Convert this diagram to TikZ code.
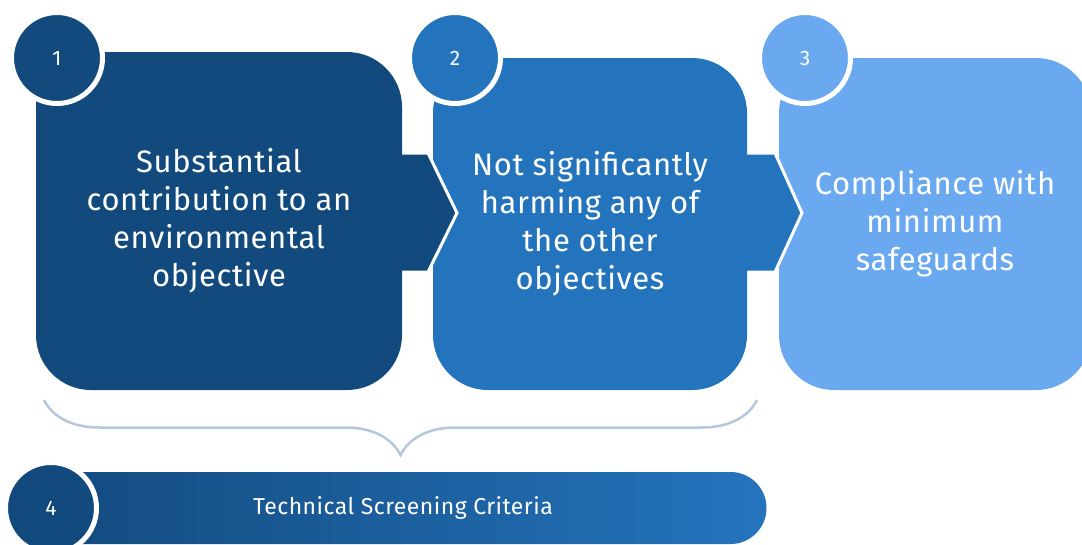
\documentclass[tikz,border=0pt]{standalone}
\usepackage{fontspec}
\setmainfont{Fira Sans}
\usepackage{tikz}
\usetikzlibrary{decorations.pathreplacing,shapes}
\definecolor{darkblue}{HTML}{134A7E}
\definecolor{midblue}{HTML}{2474BD}
\definecolor{lightblue}{HTML}{6AA9F0}
\definecolor{bracegrey}{HTML}{B4C7DC}
\newcommand{\boxr}{55pt}
\newcommand{\ringw}{5pt}

\begin{document}
\begin{tikzpicture}[x=1pt,y=-1pt]
            \useasboundingbox (0,0) rectangle (1082,544);
            %\draw[help lines] (0,0) grid (1082,544);
            \tikzset{stepbox/.style = {rectangle, rounded corners=\boxr, inner sep=0pt, text=white, align=center, font=\fontsize{31}{38}\selectfont\addfontfeatures{LetterSpace=2}}}
            \tikzset{numdisc/.style = {circle, draw=white, line width=\ringw, minimum size=91pt, inner sep=0pt, text=white, font=\fontsize{21}{24}\selectfont}}
            \tikzset{chevron/.style = {draw=white, line width=3pt, line join=miter}}

            % the three steps
            \node[stepbox, fill=lightblue, minimum width=312pt, minimum height=332pt] (b3) at (935,224) {Compliance with\\minimum\\safeguards};
            \path[chevron, fill=midblue] (747,153) -- (775,153) -- (802,213) -- (775,272) -- (747,272);
            \node[stepbox, fill=midblue, minimum width=314pt, minimum height=332pt] (b2) at (590,224) {Not significantly\\harming any of\\the other\\objectives};
            \path[chevron, fill=darkblue] (402,153) -- (428,153) -- (457,213) -- (428,272) -- (402,272);
            \node[stepbox, fill=darkblue, minimum width=366pt, minimum height=338pt] (b1) at (219,221) {Substantial\\contribution to an\\environmental\\objective};

            \node[numdisc, fill=darkblue] (n1) at (57,58) {1};
            \node[numdisc, fill=midblue] (n2) at (455,58) {2};
            \node[numdisc, fill=lightblue] (n3) at (805,58) {3};

            % brace under steps 1 and 2
            \coordinate (bl) at (44,400);
            \coordinate (br) at (757,400);
            \draw[bracegrey, line width=2.5pt, decorate, decoration={brace, mirror, amplitude=55pt}] (bl) -- (br);

            % criteria bar
            \node[rectangle, rounded corners=36pt, left color=darkblue, right color=midblue, minimum width=727pt, minimum height=72pt, text=white, font=\fontsize{23}{26}\selectfont\addfontfeatures{LetterSpace=2}] (tsc) at (403,508) {Technical Screening Criteria};
            \node[numdisc, fill=darkblue] (n4) at (51,508) {4};
\end{tikzpicture}
\end{document}
